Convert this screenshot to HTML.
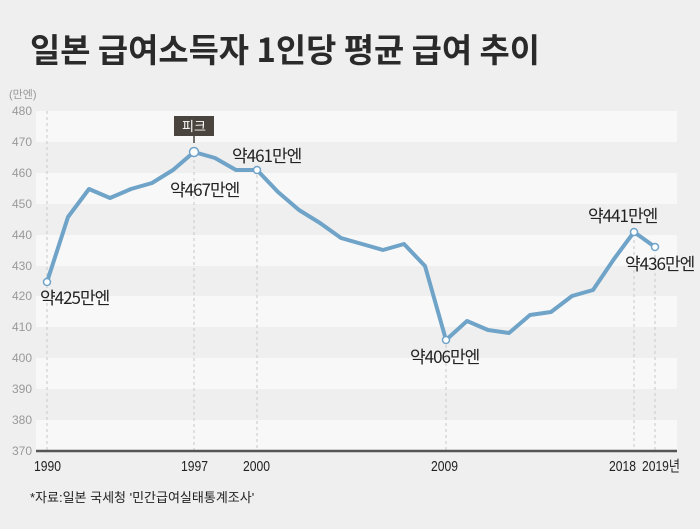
<!DOCTYPE html>
<html><head><meta charset="utf-8"><style>
html,body{margin:0;padding:0;background:#efefef;}
body{width:700px;height:524px;overflow:hidden;font-family:"Liberation Sans","Noto Sans CJK KR",sans-serif;}
</style></head><body>
<svg width="700" height="524" xmlns="http://www.w3.org/2000/svg" style="font-family:'Liberation Sans','Noto Sans CJK KR',sans-serif">
<rect width="700" height="524" fill="#efefef"/>
<text x="30" y="62" font-size="33" font-weight="bold" fill="#2a2a2a" font-family="'Noto Sans CJK KR',sans-serif" textLength="510" lengthAdjust="spacingAndGlyphs">일본 급여소득자 1인당 평균 급여 추이</text>
<g fill="#f8f8f8">
<rect x="36" y="111" width="641" height="31"/>
<rect x="36" y="173" width="641" height="31"/>
<rect x="36" y="235" width="641" height="31"/>
<rect x="36" y="296" width="641" height="31"/>
<rect x="36" y="358" width="641" height="31"/>
<rect x="36" y="420" width="641" height="31"/>
</g>
<g stroke="#c8c8c8" stroke-dasharray="3,3" stroke-width="1">
<line x1="47" y1="111" x2="47" y2="451"/><line x1="194" y1="160" x2="194" y2="451"/>
<line x1="257" y1="175" x2="257" y2="451"/><line x1="446" y1="345" x2="446" y2="451"/>
<line x1="634" y1="240" x2="634" y2="451"/><line x1="655" y1="255" x2="655" y2="451"/>
</g>
<line x1="36" y1="451" x2="677" y2="451" stroke="#555" stroke-width="2.5"/>
<g font-size="12" fill="#999" text-anchor="start">
<text x="9" y="98" font-size="11">(만엔)</text>
<text x="12" y="115">480</text><text x="12" y="146">470</text><text x="12" y="177">460</text>
<text x="12" y="208">450</text><text x="12" y="239">440</text><text x="12" y="270">430</text>
<text x="12" y="300">420</text><text x="12" y="331">410</text><text x="12" y="362">400</text>
<text x="12" y="393">390</text><text x="12" y="424">380</text><text x="12" y="455">370</text>
</g>
<g font-size="15" fill="#222">
<text x="34" y="471" textLength="27" lengthAdjust="spacingAndGlyphs">1990</text>
<text x="181" y="471" textLength="27" lengthAdjust="spacingAndGlyphs">1997</text>
<text x="243" y="471" textLength="27" lengthAdjust="spacingAndGlyphs">2000</text>
<text x="431" y="471" textLength="27" lengthAdjust="spacingAndGlyphs">2009</text>
<text x="609" y="471" textLength="27" lengthAdjust="spacingAndGlyphs">2018</text>
<text x="642" y="471" textLength="38" lengthAdjust="spacingAndGlyphs">2019년</text>
</g>
<text x="30" y="502" font-size="13" fill="#222">*자료:일본 국세청 '민간급여실태통계조사'</text>
<polyline fill="none" stroke="#6fa3c8" stroke-width="4" stroke-linejoin="round" points="47,282 68,217 89,189 110,198 131,189 152,183 173,170 194,152 215,158 236,170 257,170 278,192 299,210 320,223 341,238 362,244 383,250 404,244 425,266 446,340 467,321 488,330 509,333 530,315 551,312 572,296 593,290 614,259 634,232 655,247"/>
<g fill="#fff" stroke="#6fa3c8" stroke-width="1.5">
<circle cx="47" cy="282" r="3.5"/><circle cx="194" cy="152" r="4.5"/><circle cx="257" cy="170" r="3.5"/>
<circle cx="446" cy="340" r="3.5"/><circle cx="634" cy="232" r="3.5"/><circle cx="655" cy="247" r="3.5"/>
</g>
<rect x="174" y="116" width="40" height="20" fill="#4a443e"/>
<line x1="194" y1="136" x2="194" y2="143" stroke="#4a443e" stroke-width="1.5"/>
<text x="194" y="131" font-size="13" fill="#fff" text-anchor="middle">피크</text>
<g font-size="17" fill="#222" font-family="'Noto Sans CJK KR',sans-serif" letter-spacing="-1">
<text x="40" y="304">약425만엔</text>
<text x="170" y="196">약467만엔</text>
<text x="232" y="162">약461만엔</text>
<text x="410" y="363">약406만엔</text>
<text x="588" y="222">약441만엔</text>
<text x="625" y="270">약436만엔</text>
</g>
</svg>
</body></html>
